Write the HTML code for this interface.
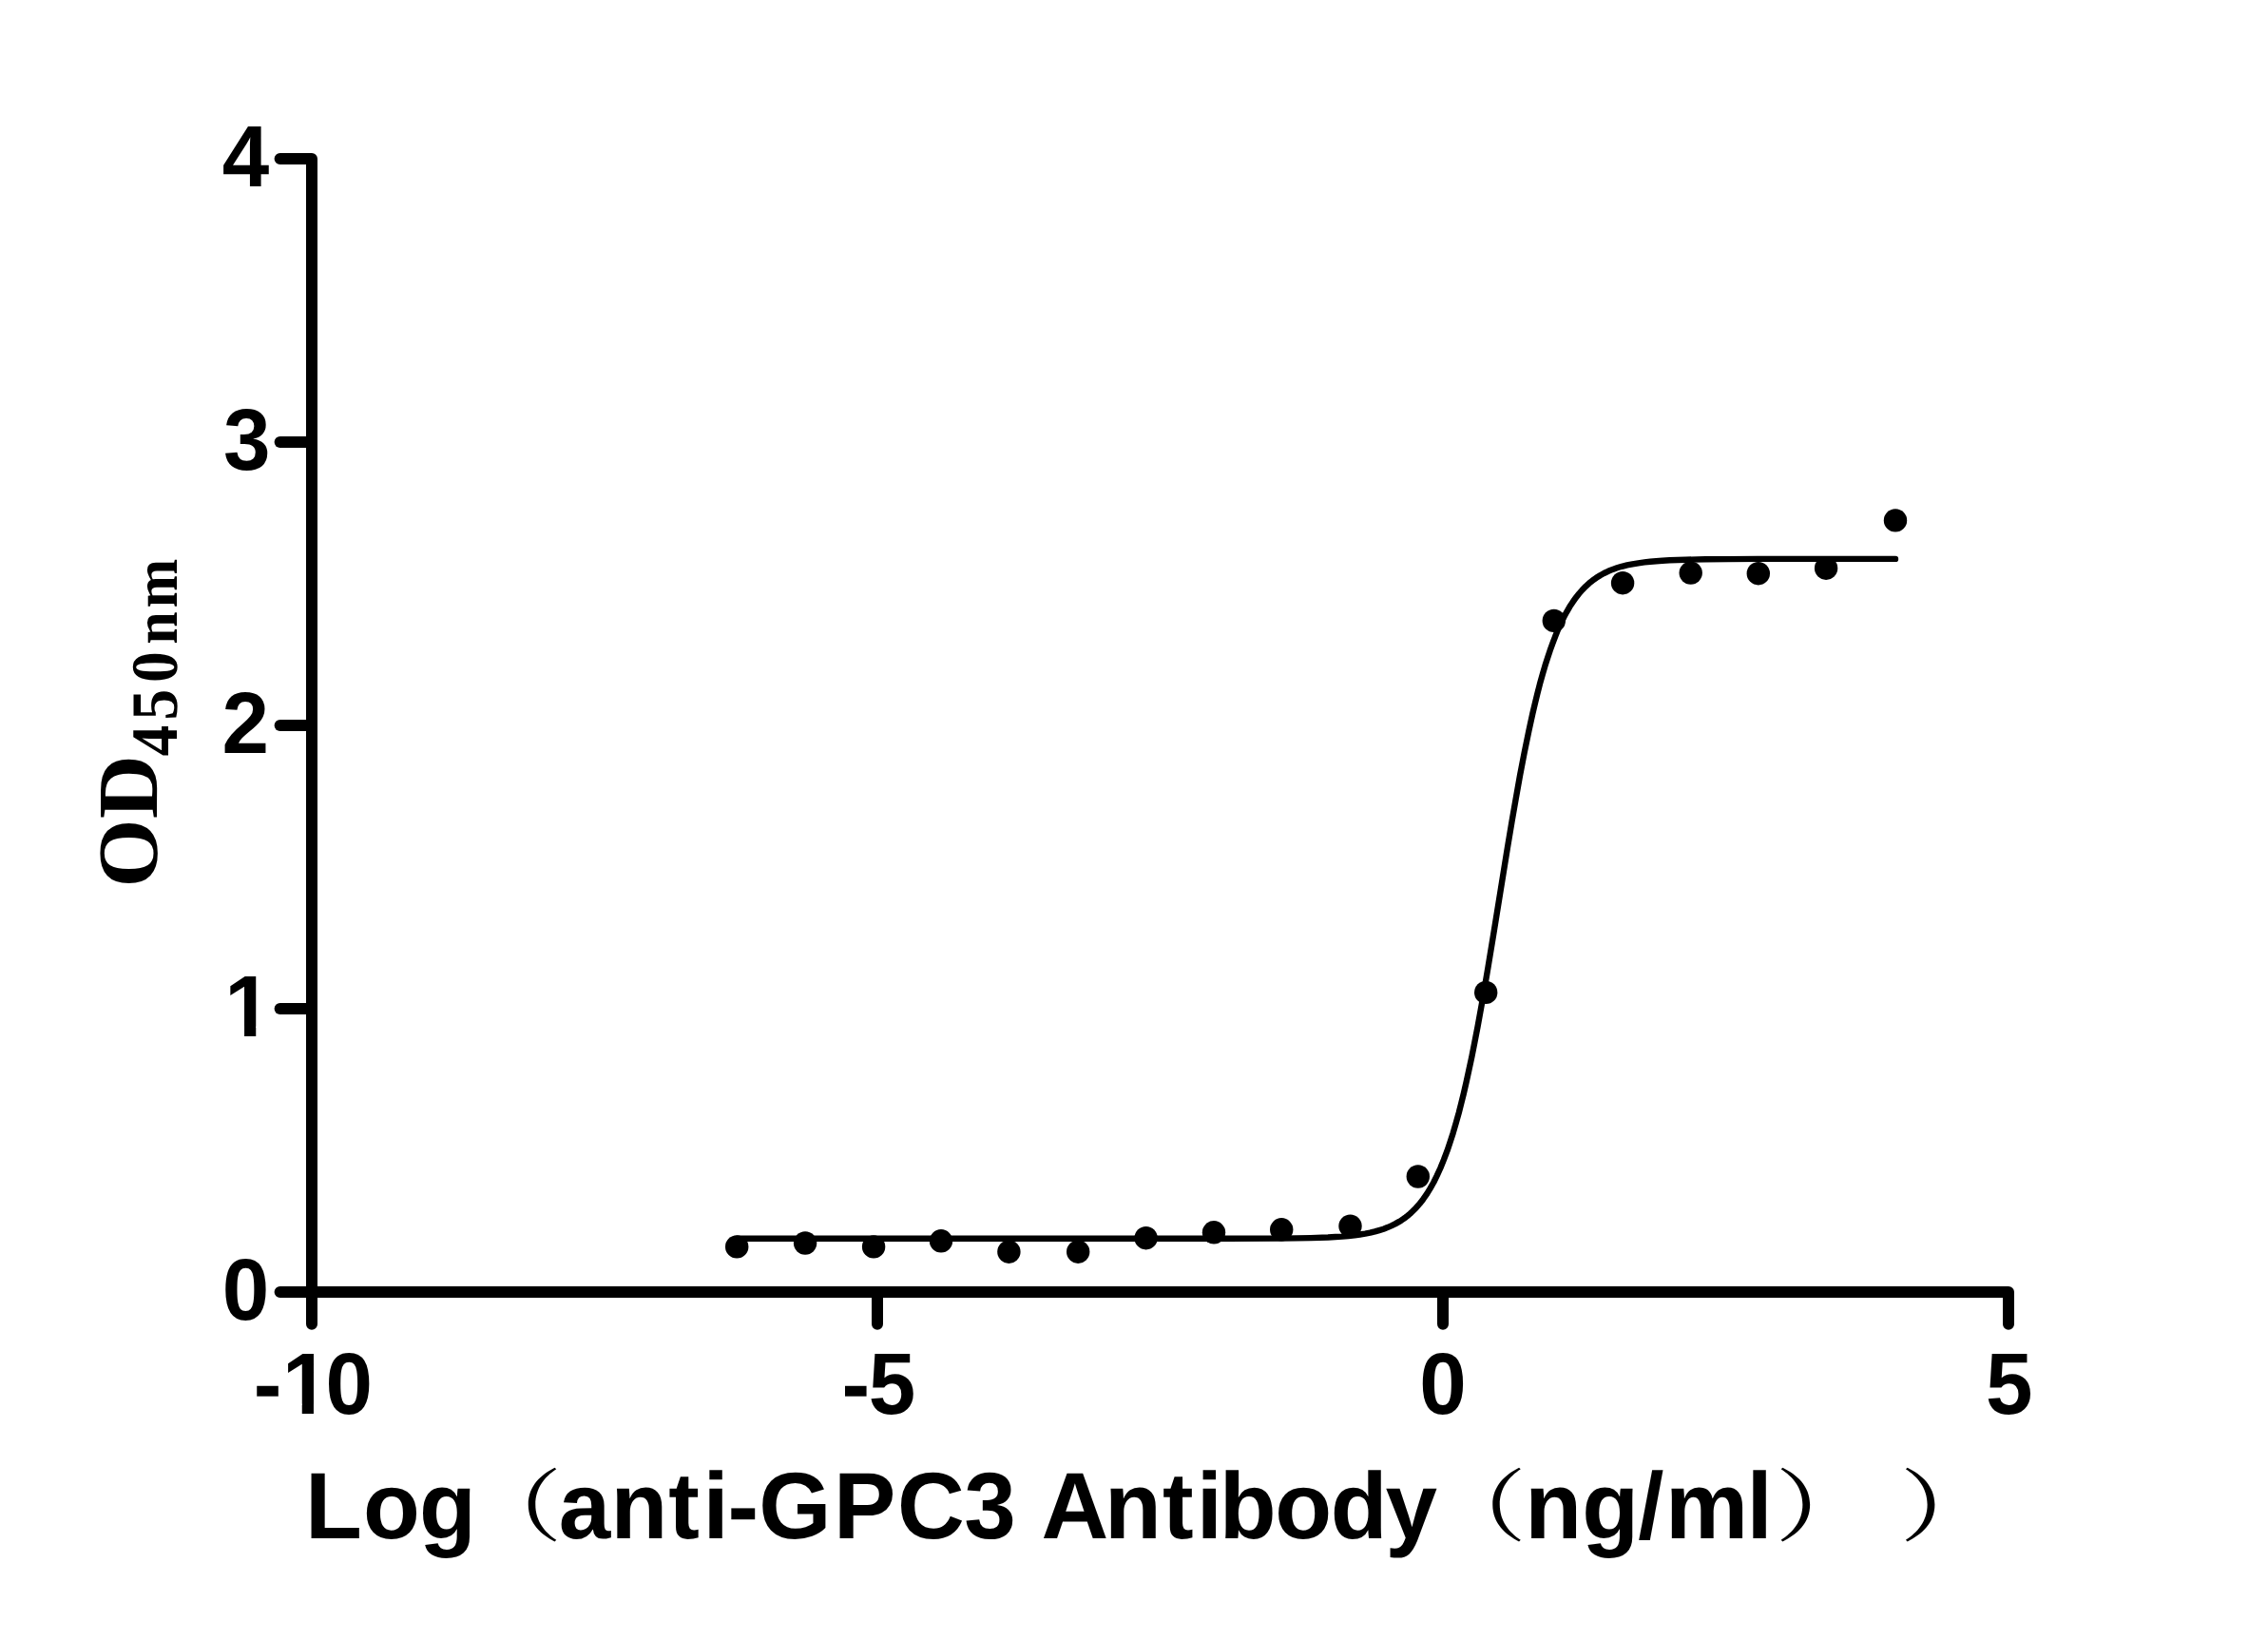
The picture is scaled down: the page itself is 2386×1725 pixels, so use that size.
<!DOCTYPE html>
<html lang="en"><head><meta charset="utf-8"><title>anti-GPC3 Antibody binding curve</title>
<style>html,body{margin:0;padding:0;background:#fff}svg{display:block}text{text-rendering:geometricPrecision}.t{font-family:"Liberation Sans",sans-serif;font-weight:bold;fill:#000}.s{font-family:"Liberation Serif",serif;font-weight:bold;fill:#000}.p{font-family:"Noto Serif CJK SC","Noto Sans CJK SC",serif;font-weight:500;fill:#000}</style></head><body>
<svg width="2386" height="1725" viewBox="0 0 2386 1725" role="img" aria-label="OD450nm versus Log(anti-GPC3 Antibody (ng/ml)) binding curve">
<rect width="2386" height="1725" fill="#fff"/>
<g fill="none" stroke="#000" stroke-width="12" stroke-linecap="round" stroke-linejoin="round">
<path d="M294.6 167.0 L328.0 167.0 L328.0 1392.7"/>
<path d="M294.6 465.0 L328.0 465.0"/>
<path d="M294.6 763.0 L328.0 763.0"/>
<path d="M294.6 1061.0 L328.0 1061.0"/>
<path d="M294.6 1359.0 L2113.0 1359.0 L2113.0 1392.7"/>
<path d="M923.0 1359.0 L923.0 1392.7"/>
<path d="M1518.0 1359.0 L1518.0 1392.7"/>
</g>
<path d="M775.9 1302.8 L1291.6 1302.8 L1345.4 1302.6 L1363.6 1302.4 L1378.9 1302.1 L1397.1 1301.5 L1404.8 1301.0 L1411.9 1300.6 L1418.5 1300.0 L1425.1 1299.3 L1430.6 1298.5 L1436.2 1297.6 L1441.3 1296.6 L1446.4 1295.4 L1450.9 1294.1 L1455.5 1292.7 L1459.6 1291.1 L1463.6 1289.4 L1467.7 1287.4 L1471.2 1285.4 L1473.8 1283.9 L1476.3 1282.2 L1478.9 1280.3 L1480.9 1278.7 L1483.4 1276.6 L1485.4 1274.7 L1489.5 1270.7 L1493.6 1266.0 L1495.6 1263.5 L1497.6 1260.8 L1501.2 1255.6 L1504.7 1249.9 L1508.3 1243.5 L1511.8 1236.4 L1515.4 1228.5 L1518.9 1219.9 L1522.5 1210.4 L1525.5 1201.5 L1528.6 1191.9 L1531.6 1181.6 L1534.7 1170.6 L1537.2 1160.8 L1539.8 1150.4 L1542.8 1137.3 L1545.3 1125.8 L1548.4 1111.3 L1551.4 1096.1 L1554.5 1080.2 L1560.1 1049.3 L1565.6 1016.7 L1571.2 982.8 L1585.9 891.7 L1590.5 864.3 L1594.6 840.8 L1599.1 815.4 L1603.7 791.5 L1608.3 769.1 L1612.3 750.7 L1614.9 739.8 L1617.4 729.5 L1619.9 719.7 L1623.0 708.7 L1625.5 700.1 L1628.1 692.0 L1630.6 684.4 L1633.7 675.9 L1636.2 669.3 L1639.2 661.9 L1642.3 655.2 L1645.3 649.0 L1648.4 643.3 L1651.4 638.1 L1654.5 633.4 L1658.0 628.4 L1661.1 624.5 L1664.6 620.5 L1668.2 616.8 L1671.7 613.6 L1675.3 610.7 L1679.3 607.8 L1683.4 605.2 L1687.4 603.0 L1692.0 600.8 L1696.6 598.9 L1701.2 597.3 L1706.2 595.8 L1711.8 594.4 L1717.4 593.3 L1723.5 592.3 L1730.1 591.4 L1736.2 590.7 L1742.3 590.2 L1748.9 589.7 L1756.5 589.3 L1773.2 588.7 L1794.0 588.3 L1817.4 588.1 L1849.9 587.9 L1994.0 587.9" fill="none" stroke="#000" stroke-width="6.4" stroke-linecap="round" stroke-linejoin="round"/>
<g fill="#000">
<circle cx="775.2" cy="1311.4" r="12.2"/>
<circle cx="847.1" cy="1307.5" r="12.2"/>
<circle cx="919.1" cy="1311.4" r="12.2"/>
<circle cx="990.0" cy="1305.3" r="12.2"/>
<circle cx="1061.4" cy="1316.7" r="12.2"/>
<circle cx="1134.2" cy="1316.7" r="12.2"/>
<circle cx="1205.6" cy="1302.2" r="12.2"/>
<circle cx="1277.0" cy="1296.3" r="12.2"/>
<circle cx="1348.2" cy="1293.3" r="12.2"/>
<circle cx="1420.5" cy="1289.6" r="12.2"/>
<circle cx="1491.8" cy="1237.5" r="12.2"/>
<circle cx="1563.2" cy="1043.9" r="12.2"/>
<circle cx="1634.8" cy="652.9" r="12.2"/>
<circle cx="1707.1" cy="613.2" r="12.2"/>
<circle cx="1778.7" cy="602.6" r="12.2"/>
<circle cx="1849.8" cy="603.2" r="12.2"/>
<circle cx="1921.1" cy="597.7" r="12.2"/>
<circle cx="1994.0" cy="547.4" r="12.2"/>
</g>
<g id="y-title">
<text class="s" font-size="90" transform="translate(165.0 930.0) rotate(-90) scale(1.03 1)" x="-3.50 66.80" y="0">OD</text>
<text class="s" font-size="66" transform="translate(186.3 930.0) rotate(-90) scale(0.94 1)" x="143.19 183.62 225.43 268.30 309.15" y="0"><tspan font-size="69.5">450</tspan>nm</text>
</g>
<g id="y-ticks">
<text class="t" font-size="89" transform="translate(0 196.0) scale(1 1.03)" x="233.70" y="0">4</text>
<text class="t" font-size="89" transform="translate(0 494.0) scale(1 1.03)" x="235.00" y="0">3</text>
<text class="t" font-size="89" transform="translate(0 792.0) scale(1 1.03)" x="233.40" y="0">2</text>
<text class="t" font-size="89" transform="translate(0 1090.0) scale(1 1.03)" x="236.20" y="0">1</text>
<text class="t" font-size="89" transform="translate(0 1388.0) scale(1 1.03)" x="233.80" y="0">0</text>
</g>
<g id="x-ticks">
<text class="t" font-size="89" transform="translate(0 1487.0) scale(1 1.03)" x="266.80 296.90 342.50" y="0">-10</text>
<text class="t" font-size="89" transform="translate(0 1487.0) scale(1 1.03)" x="885.60 913.80" y="0">-5</text>
<text class="t" font-size="89" transform="translate(0 1487.0) scale(1 1.03)" x="1493.30" y="0">0</text>
<text class="t" font-size="89" transform="translate(0 1487.0) scale(1 1.03)" x="2088.90" y="0">5</text>
</g>
<g fill="#fff"><rect x="235.20" y="1079.70" width="21.85" height="12.5"/><rect x="269.25" y="1079.70" width="15.3" height="12.5"/><rect x="295.90" y="1476.70" width="21.85" height="12.5"/><rect x="329.95" y="1476.70" width="15.3" height="12.5"/></g>
<g id="x-title">
<text class="t" font-size="98" transform="translate(0 1618.0) scale(1 1.012)" x="321.00 382.00 440.90" y="0">Log</text>
<text class="p" font-size="82.8" transform="translate(489.7 1613.5) scale(1.229 1)" x="0" y="0">（</text>
<text class="t" font-size="98" transform="translate(0 1618.0) scale(1 1.012)" x="587.70 642.60 703.20 739.50 765.50 798.30 876.90 944.10 1014.30 1034.30 1095.60 1161.90 1222.90 1258.70 1282.80 1341.30 1399.80 1457.50" y="0">anti-GPC3 Antibody</text>
<text class="p" font-size="82.8" transform="translate(1504.2 1613.5) scale(1.229 1)" x="0" y="0">（</text>
<text class="t" font-size="98" transform="translate(0 1618.0) scale(1 1.012)" x="1604.30 1664.30 1723.20 1752.10 1837.50" y="0">ng/ml</text>
<text class="p" font-size="82.8" transform="translate(1867.3 1613.5) scale(1.27 1)" x="0" y="0">）</text>
<text class="p" font-size="82.8" transform="translate(1998.6 1613.5) scale(1.27 1)" x="0" y="0">）</text>
</g>
</svg></body></html>
